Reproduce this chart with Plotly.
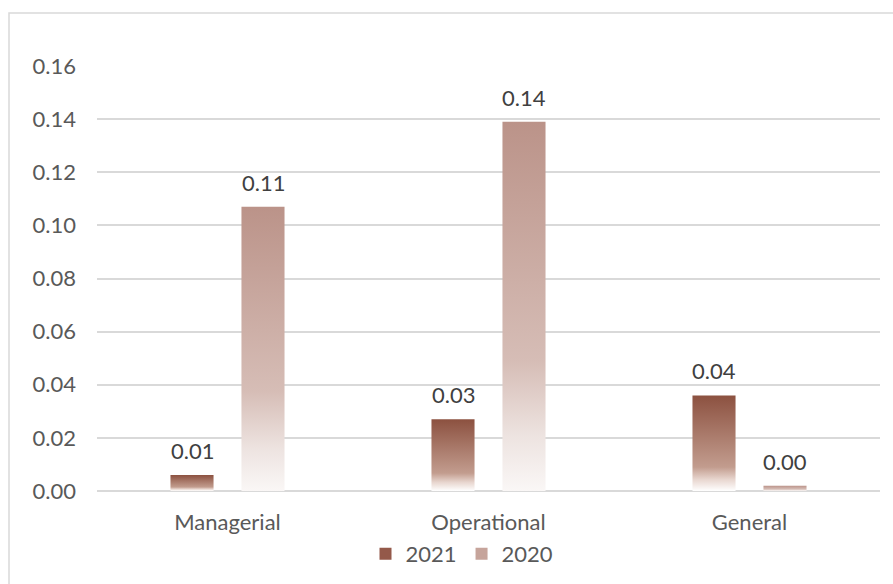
import plotly.graph_objects as go

# Data
categories = ["Managerial", "Operational", "General"]
series_names = ["2021", "2020"]
values_2021 = [0.006, 0.027, 0.036]
values_2020 = [0.107, 0.139, 0.002]
y_tick_values = [0.00, 0.02, 0.04, 0.06, 0.08, 0.10, 0.12, 0.14, 0.16]

# Styling
FONT = "Lato"
TEXT_GREY = "#595959"
LABEL_GREY = "#404040"
GRID = "#D9D9D9"
BAR_HALF_WIDTH = 0.0825
GROUP_OFFSETS = [-0.136, 0.136]

gradients = {
    "2021": [[0.0, "#FFFFFF"], [0.12, "#E8D6CF"], [0.25, "#C29C8E"], [1.0, "#8C5140"]],
    "2020": [[0.0, "#FAF7F6"], [0.15, "#EDE3E0"], [0.35, "#D6BDB6"], [1.0, "#BB9389"]],
}
legend_colors = {"2021": "#94594A", "2020": "#C6A49B"}

fig = go.Figure()

for name, values, offset in zip(series_names, [values_2021, values_2020], GROUP_OFFSETS):
    # legend entry
    fig.add_trace(go.Bar(
        x=[None], y=[None], name=name,
        marker=dict(color=legend_colors[name], line=dict(width=0)),
        legendgroup=name, showlegend=True,
    ))
    for i, v in enumerate(values):
        xc = i + offset
        x0, x1 = xc - BAR_HALF_WIDTH, xc + BAR_HALF_WIDTH
        fig.add_trace(go.Scatter(
            x=[x0, x0, x1, x1, x0], y=[0, v, v, 0, 0],
            mode="none", fill="toself",
            fillgradient=dict(type="vertical", colorscale=gradients[name], start=0, stop=v),
            legendgroup=name, showlegend=False, hoverinfo="skip",
        ))
        fig.add_annotation(
            x=xc, y=v, xref="x", yref="y", text=f"{v:.2f}",
            showarrow=False, yanchor="bottom", yshift=9,
            font=dict(family=FONT, size=22, color=LABEL_GREY),
        )

# chart frame
W, H = 893, 584
plot_l, plot_r, plot_t, plot_b = 97, 880, 66, 491
pw, ph = plot_r - plot_l, plot_b - plot_t
fig.add_shape(
    type="rect", xref="paper", yref="paper",
    x0=(9 - plot_l) / pw, x1=(900 - plot_l) / pw,
    y0=(plot_b - 600) / ph, y1=(plot_b - 13) / ph,
    line=dict(color=GRID, width=1.5), fillcolor="rgba(0,0,0,0)", layer="below",
)

fig.update_layout(
    width=W, height=H,
    margin=dict(l=plot_l, r=W - plot_r, t=plot_t, b=H - plot_b, autoexpand=False),
    paper_bgcolor="white", plot_bgcolor="white",
    font=dict(family=FONT, size=22, color=TEXT_GREY),
    showlegend=True,
    legend=dict(
        orientation="h", xref="container", yref="container",
        x=462 / W, xanchor="center",
        y=(H - 533) / H, yanchor="top",
        bgcolor="rgba(0,0,0,0)",
        font=dict(family=FONT, size=22, color=TEXT_GREY),
        traceorder="normal", itemwidth=30,
    ),
)
fig.update_xaxes(
    range=[-0.5, 2.5], tickvals=[0, 1, 2], ticktext=categories,
    showgrid=False, zeroline=False, showline=False, ticks="",
    ticklabelstandoff=16, tickfont=dict(family=FONT, size=22, color=TEXT_GREY),
)
fig.update_yaxes(
    range=[0, 0.16], tickvals=y_tick_values, tickformat=".2f",
    showgrid=True, gridcolor=GRID, gridwidth=1.5,
    zeroline=True, zerolinecolor=GRID, zerolinewidth=1.5,
    showline=False, ticks="", ticklabelstandoff=20,
    tickfont=dict(family=FONT, size=22, color=TEXT_GREY),
)

fig.write_html("out.html")
